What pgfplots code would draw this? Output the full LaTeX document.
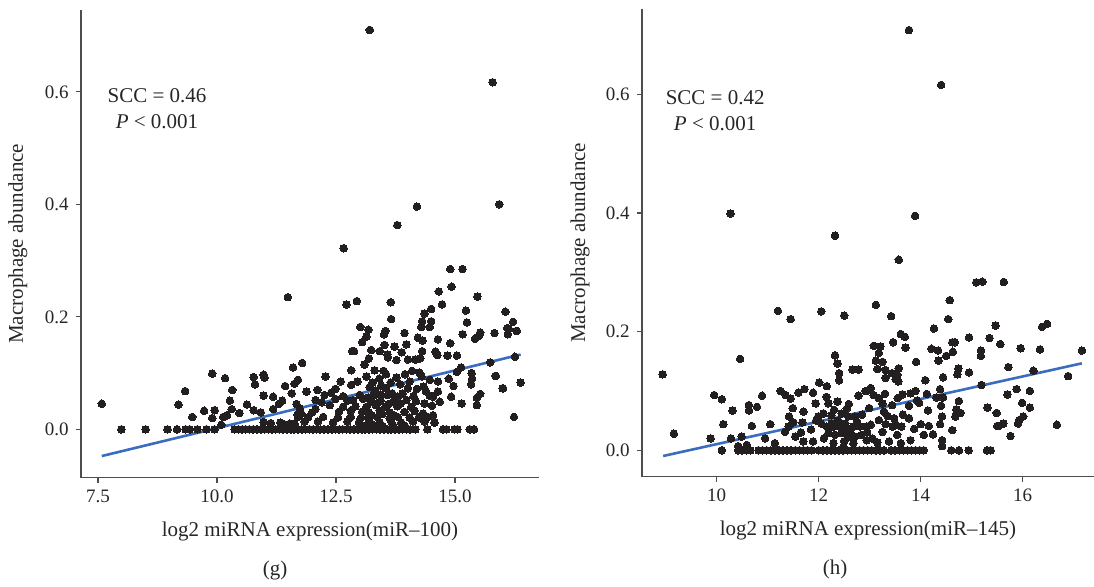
\documentclass[border=0pt]{standalone}
\usepackage{fontspec}
\setmainfont{Liberation Serif}
\usepackage{pgfplots}
\usepackage{pgfplotstable}
\pgfplotsset{compat=1.18}
\definecolor{dotc}{HTML}{231F20}
\definecolor{axc}{HTML}{4D4D4D}
\definecolor{txtc}{HTML}{262626}
\definecolor{lineblue}{HTML}{3A6DC0}

\pgfplotstableread{
x y
13.21 0.710
15.79 0.617
14.20 0.396
15.93 0.400
13.79 0.363
12.66 0.322
14.90 0.285
15.16 0.285
14.93 0.2535
14.66 0.245
15.47 0.236
11.49 0.235
7.58 0.0455
9.19 0.0438
9.33 0.068
9.48 0.022
9.73 0.033
9.90 0.099
9.90 0.020
9.95 0.034
10.09 0.008
10.17 0.091
10.13 0.022
10.21 0.025
10.27 0.051
10.32 0.070
10.31 0.036
10.47 0.029
10.63 0.044
10.77 0.093
10.80 0.080
10.77 0.034
10.92 0.030
10.98 0.097
11.00 0.092
10.98 0.060
11.18 0.058
10.98 0.013
11.13 0.011
11.18 0.036
11.30 0.045
11.37 0.051
11.43 0.077
11.60 0.110
11.57 0.064
11.63 0.081
11.67 0.045
11.69 0.026
11.33 0.012
11.41 0.009
11.53 0.010
11.63 0.010
12.72 0.222
12.94 0.228
13.65 0.226
14.73 0.222
14.50 0.214
14.36 0.206
15.23 0.211
16.06 0.209
13.66 0.196
14.31 0.192
14.50 0.192
15.25 0.190
16.22 0.191
13.01 0.182
14.29 0.182
14.47 0.182
13.18 0.177
13.54 0.175
13.51 0.169
13.94 0.171
15.53 0.172
15.83 0.171
16.13 0.179
16.29 0.175
13.14 0.165
14.22 0.163
14.32 0.158
14.64 0.160
15.16 0.169
15.42 0.161
15.50 0.166
16.11 0.169
13.05 0.155
13.52 0.150
13.73 0.147
13.98 0.151
14.90 0.153
13.24 0.141
12.84 0.139
12.88 0.139
13.42 0.139
13.58 0.133
13.88 0.137
14.31 0.139
14.59 0.138
14.63 0.132
14.84 0.131
15.04 0.131
13.19 0.126
13.59 0.128
13.77 0.123
14.01 0.124
14.17 0.124
14.27 0.126
11.79 0.118
13.10 0.115
12.82 0.105
13.31 0.105
13.50 0.104
13.55 0.098
14.10 0.104
14.25 0.101
15.13 0.110
15.04 0.102
15.74 0.119
15.35 0.100
12.28 0.094
13.14 0.094
13.41 0.090
13.77 0.092
14.30 0.094
14.47 0.088
14.87 0.090
15.86 0.095
15.36 0.090
11.70 0.088
13.27 0.083
13.21 0.075
12.82 0.079
14.97 0.077
14.64 0.085
14.34 0.076
15.34 0.080
16.01 0.073
11.88 0.067
12.11 0.070
12.49 0.072
13.55 0.073
13.32 0.069
14.01 0.073
14.39 0.068
14.64 0.067
12.26 0.061
12.65 0.059
13.00 0.061
13.18 0.057
13.43 0.062
13.59 0.061
13.80 0.058
14.13 0.059
14.47 0.060
14.54 0.058
14.92 0.058
15.53 0.063
15.46 0.056
12.07 0.052
12.49 0.054
12.74 0.051
12.86 0.052
13.07 0.054
13.24 0.049
13.44 0.051
13.70 0.049
13.98 0.052
14.18 0.050
14.36 0.046
14.68 0.049
12.37 0.043
12.65 0.040
12.91 0.041
13.14 0.040
13.33 0.043
13.54 0.040
13.79 0.041
14.08 0.040
14.52 0.042
15.14 0.046
15.46 0.043
11.74 0.037
12.07 0.036
11.77 0.028
12.56 0.031
12.81 0.033
13.05 0.031
13.19 0.030
13.42 0.033
13.63 0.030
13.94 0.031
14.15 0.033
14.33 0.028
14.54 0.025
11.70 0.022
11.91 0.021
12.23 0.022
12.54 0.021
12.81 0.022
13.02 0.020
13.17 0.021
13.37 0.022
13.63 0.020
13.80 0.022
14.05 0.021
14.24 0.021
14.43 0.022
16.24 0.022
11.84 0.014
12.12 0.014
12.44 0.012
12.74 0.014
12.98 0.012
13.21 0.014
13.42 0.012
13.66 0.014
13.87 0.012
14.12 0.014
14.36 0.014
14.57 0.012
16.38 0.083
16.26 0.129
16.30 0.175
16.10 0.180
16.00 0.073
15.85 0.095
13.10 0.006
13.30 0.007
13.48 0.006
13.70 0.007
13.95 0.006
13.25 0.025
13.47 0.027
13.72 0.025
13.60 0.045
13.38 0.047
13.86 0.046
13.29 0.060
13.68 0.064
13.90 0.064
13.45 0.078
13.65 0.083
13.85 0.080
14.05 0.085
14.20 0.072
13.95 0.098
12.95 0.085
12.60 0.085
12.40 0.065
12.20 0.048
12.00 0.030
7.99 0
8.50 0
8.96 0
9.16 0
9.34 0
9.43 0
9.59 0
9.78 0
9.95 0
10.37 0
10.45 0
10.53 0
10.60 0
10.68 0
10.76 0
10.84 0
10.92 0
11.00 0
11.08 0
11.15 0
11.23 0
11.31 0
11.39 0
11.47 0
11.55 0
11.62 0
11.70 0
11.78 0
11.86 0
11.94 0
12.02 0
12.09 0
12.17 0
12.25 0
12.33 0
12.41 0
12.49 0
12.57 0
12.64 0
12.72 0
12.80 0
12.88 0
12.96 0
13.04 0
13.11 0
13.19 0
13.27 0
13.35 0
13.43 0
13.51 0
13.59 0
13.66 0
13.74 0
13.82 0
13.90 0
13.98 0
14.06 0
14.17 0
14.42 0
14.75 0
14.82 0
14.99 0
15.05 0
15.31 0
15.40 0
}\leftdata

\pgfplotstableread{
x y
13.77 0.708
14.40 0.6155
10.27 0.399
13.89 0.395
12.32 0.3616
13.57 0.321
15.09 0.283
15.21 0.284
15.63 0.2836
8.94 0.128
9.16 0.028
9.88 0.020
9.95 0.093
10.10 0.086
10.13 0.044
10.31 0.067
10.46 0.154
10.28 0.020
10.49 0.023
10.42 0.007
10.59 0.009
10.63 0.076
10.63 0.067
10.69 0.041
10.79 0.073
10.89 0.092
10.95 0.020
11.05 0.044
11.14 0.012
11.20 0.235
11.45 0.221
11.25 0.100
11.35 0.093
11.45 0.087
11.49 0.071
11.42 0.057
11.50 0.047
11.60 0.097
11.72 0.103
11.70 0.065
11.68 0.047
11.41 0.040
11.34 0.031
11.54 0.023
11.70 0.015
11.89 0.097
11.94 0.079
12.01 0.114
12.05 0.234
12.16 0.108
12.15 0.090
12.19 0.079
12.32 0.160
12.37 0.146
12.40 0.130
12.40 0.118
12.37 0.082
12.50 0.227
12.66 0.136
12.78 0.136
12.59 0.078
12.78 0.092
12.92 0.100
11.99 0.057
12.09 0.062
12.25 0.059
12.45 0.062
12.58 0.057
12.71 0.057
12.16 0.040
12.29 0.040
12.42 0.040
12.55 0.037
12.68 0.040
12.81 0.040
12.19 0.029
12.32 0.026
12.45 0.029
12.58 0.023
12.71 0.023
12.84 0.026
11.89 0.015
12.29 0.012
12.68 0.012
12.94 0.040
12.94 0.017
13.12 0.245
14.57 0.253
13.42 0.226
14.54 0.221
14.26 0.205
15.47 0.210
16.38 0.208
16.48 0.213
13.61 0.196
13.69 0.191
13.46 0.182
14.95 0.190
15.35 0.189
14.62 0.182
14.67 0.182
15.56 0.179
13.08 0.176
13.21 0.175
13.70 0.173
14.21 0.171
14.34 0.168
14.63 0.166
15.18 0.168
15.18 0.159
15.96 0.172
16.34 0.170
17.16 0.168
13.18 0.164
13.12 0.151
13.25 0.149
14.50 0.159
14.35 0.151
13.91 0.149
13.15 0.137
13.31 0.135
13.44 0.130
13.54 0.127
13.57 0.138
13.31 0.122
13.51 0.120
13.56 0.116
14.74 0.138
14.72 0.128
14.95 0.131
14.44 0.123
14.09 0.118
15.72 0.140
16.21 0.134
16.89 0.125
15.19 0.110
15.88 0.103
16.14 0.100
15.70 0.094
13.02 0.105
12.95 0.100
13.08 0.093
13.18 0.088
13.64 0.094
13.80 0.096
13.90 0.100
14.12 0.095
14.38 0.103
14.31 0.089
14.44 0.089
12.99 0.071
13.25 0.079
13.44 0.076
13.77 0.075
13.93 0.084
13.97 0.080
14.75 0.083
14.40 0.075
14.14 0.067
15.31 0.072
15.99 0.080
16.14 0.072
14.70 0.069
14.78 0.063
15.49 0.063
13.28 0.065
13.35 0.058
13.48 0.054
13.77 0.054
14.42 0.057
14.68 0.057
16.01 0.057
15.93 0.051
13.02 0.043
13.18 0.051
13.31 0.044
13.51 0.043
13.62 0.040
14.00 0.044
14.16 0.041
14.38 0.044
15.50 0.041
15.62 0.045
15.91 0.045
16.67 0.043
12.95 0.031
13.25 0.031
13.54 0.026
13.87 0.036
14.06 0.026
14.24 0.027
14.62 0.034
15.76 0.024
13.15 0.013
13.38 0.015
13.61 0.012
13.80 0.017
14.42 0.017
14.42 0.007
15.52 0.041
12.10 0.020
12.25 0.045
12.38 0.050
12.52 0.045
12.62 0.030
12.50 0.015
12.75 0.048
12.85 0.060
12.30 0.068
12.55 0.070
12.05 0.045
11.85 0.035
11.95 0.050
12.48 0.005
13.05 0.020
13.45 0.040
13.65 0.060
13.30 0.095
13.55 0.088
11.65 0.030
10.10 0
10.42 0
10.50 0
10.58 0
10.66 0
10.82 0
10.90 0
10.98 0
11.06 0
11.14 0
11.22 0
11.30 0
11.38 0
11.46 0
11.54 0
11.62 0
11.70 0
11.78 0
11.86 0
12.00 0
12.08 0
12.16 0
12.24 0
12.32 0
12.40 0
12.48 0
12.56 0
12.64 0
12.72 0
12.80 0
12.88 0
12.96 0
13.04 0
13.12 0
13.20 0
13.28 0
13.42 0
13.50 0
13.58 0
13.66 0
13.74 0
13.82 0
13.90 0
13.98 0
14.06 0
14.60 0
14.75 0
14.94 0
15.30 0
15.37 0
}\rightdata

\pgfplotsset{myax/.style={
  scale only axis, anchor=south west,
  axis x line=bottom, axis y line=left,
  axis line style={-, draw=axc, line width=0.65pt},
  tick align=outside, major tick length=2.6pt,
  tick style={draw=axc, line width=0.65pt},
  ticklabel style={font=\fontsize{9.5}{11}\selectfont, text=txtc},
  label style={font=\fontsize{10.5}{12}\selectfont, text=txtc},
  /pgf/number format/assume math mode=true,
  yticklabel style={/pgf/number format/.cd, fixed, fixed zerofill, precision=1},
  ytick={0,0.2,0.4,0.6},
  ylabel={Macrophage abundance},
  clip=false,
}}

\begin{document}
\begin{tikzpicture}
\path[use as bounding box] (0,0) rectangle (547pt,293pt);
% left panel (g)
\begin{axis}[myax,
  at={(40.5pt,54.15pt)}, width=229pt, height=234pt,
  xmin=7.143, xmax=16.765, ymin=-0.086, ymax=0.746,
  xtick={7.5,10,12.5,15},
  xticklabel style={/pgf/number format/.cd, fixed, fixed zerofill, precision=1},
  xlabel={log2 miRNA expression(miR–100)},
  ylabel style={at={(axis description cs:-0.1376,0.5)}, anchor=center},
  xlabel style={at={(axis description cs:0.5,-0.1154)}, anchor=center},
]
\addplot[only marks, mark=*, mark size=1.9pt, mark options={draw=dotc, fill=dotc, line width=0pt}] table {\leftdata};
\addplot[no marks, color=lineblue, line width=1.3pt] coordinates {(7.58,-0.0475) (16.38,0.133)};
\node[align=center, font=\fontsize{10.5}{13}\selectfont, text=txtc] at (axis cs:8.74,0.5705) {SCC = 0.46\\\textit{P} < 0.001};
\node[font=\fontsize{10.5}{12}\selectfont, text=txtc] at (axis description cs:0.4236,-0.1987) {(g)};
\end{axis}
% right panel (h)
\begin{axis}[myax,
  at={(321pt,54.65pt)}, width=226pt, height=234pt,
  xmin=8.535, xmax=17.398, ymin=-0.0445, ymax=0.744,
  xtick={10,12,14,16},
  xlabel={log2 miRNA expression(miR–145)},
  ylabel style={at={(axis description cs:-0.137,0.5)}, anchor=center},
  xlabel style={at={(axis description cs:0.5,-0.1154)}, anchor=center},
]
\addplot[only marks, mark=*, mark size=1.9pt, mark options={draw=dotc, fill=dotc, line width=0pt}] table {\rightdata};
\addplot[no marks, color=lineblue, line width=1.3pt] coordinates {(8.95,-0.0096) (17.16,0.1465)};
\node[align=center, font=\fontsize{10.5}{13}\selectfont, text=txtc] at (axis cs:9.97,0.5725) {SCC = 0.42\\\textit{P} < 0.001};
\node[font=\fontsize{10.5}{12}\selectfont, text=txtc] at (axis description cs:0.427,-0.1987) {(h)};
\end{axis}
\end{tikzpicture}
\end{document}
